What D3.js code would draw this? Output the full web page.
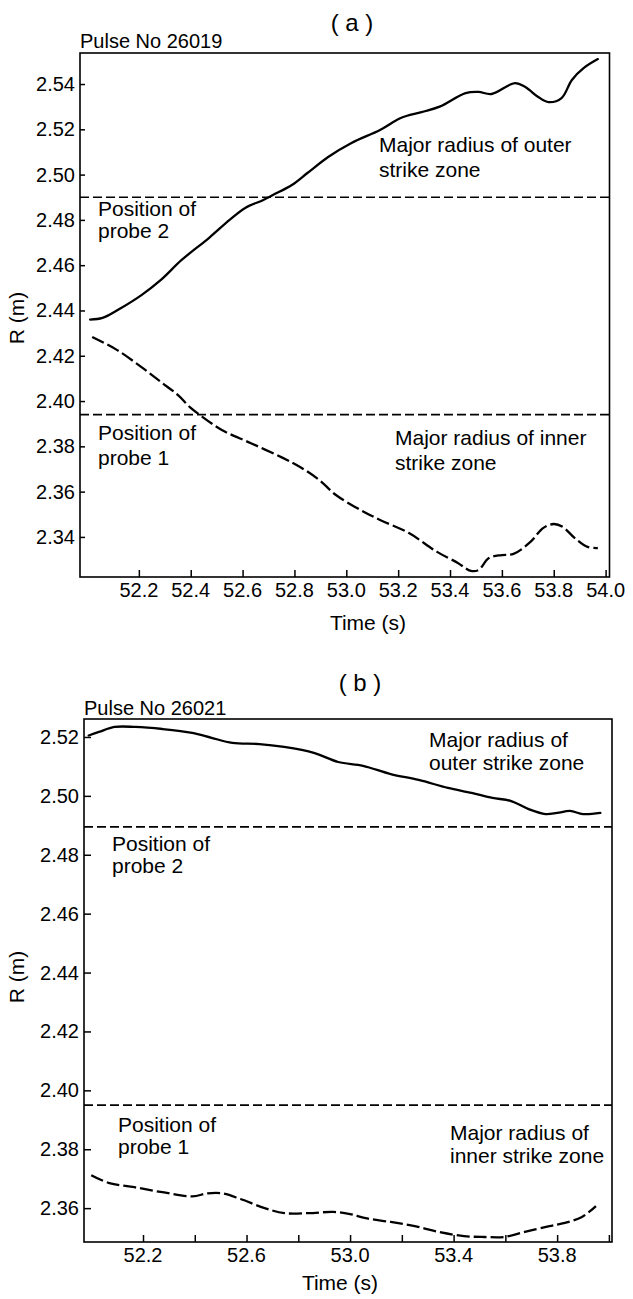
<!DOCTYPE html>
<html>
<head>
<meta charset="utf-8">
<script src="https://cdn.jsdelivr.net/npm/d3@7"></script>
<style>
  html, body { margin: 0; padding: 0; background: #fff; }
  svg { display: block; }
  text { font-family: "Liberation Sans", Arial, Helvetica, sans-serif; fill: #000; }
</style>
</head>
<body>
<svg id="chart" width="633" height="1299"></svg>
<script>
// ---- Pulse 26019 (panel a) ----
const timeOuterA = [52.012, 52.06, 52.13, 52.21, 52.285, 52.365, 52.47, 52.55, 52.61, 52.68, 52.717, 52.79, 52.85, 52.93, 53.02, 53.13, 53.21, 53.29, 53.36, 53.46, 53.51, 53.56, 53.65, 53.69, 53.74, 53.78, 53.83, 53.87, 53.915, 53.97];
const outerA     = [2.436, 2.4367, 2.441, 2.4468, 2.4535, 2.4623, 2.472, 2.480, 2.4853, 2.4888, 2.491, 2.4954, 2.5007, 2.5078, 2.514, 2.5197, 2.525, 2.5276, 2.530, 2.536, 2.5365, 2.5356, 2.5404, 2.5387, 2.5343, 2.532, 2.5338, 2.5418, 2.547, 2.551];
const timeInnerA = [52.02, 52.115, 52.21, 52.285, 52.35, 52.40, 52.435, 52.52, 52.63, 52.755, 52.82, 52.895, 52.96, 53.055, 53.13, 53.24, 53.35, 53.43, 53.48, 53.51, 53.55, 53.60, 53.645, 53.71, 53.76, 53.80, 53.835, 53.88, 53.93, 53.97];
const innerA     = [2.4283, 2.4226, 2.415, 2.4084, 2.4027, 2.397, 2.3939, 2.3872, 2.3815, 2.3749, 2.371, 2.3652, 2.3585, 2.3519, 2.3475, 2.3418, 2.3334, 2.3285, 2.325, 2.3254, 2.3307, 2.332, 2.3325, 2.3378, 2.344, 2.3457, 2.3444, 2.3396, 2.3356, 2.3351];
const probesA    = [2.490, 2.394];
const yTicksA    = [2.34, 2.36, 2.38, 2.40, 2.42, 2.44, 2.46, 2.48, 2.50, 2.52, 2.54];
const xTicksA    = [52.2, 52.4, 52.6, 52.8, 53.0, 53.2, 53.4, 53.6, 53.8, 54.0];
const xLabelsA   = ["52.2", "52.4", "52.6", "52.8", "53.0", "53.2", "53.4", "53.6", "53.8", "54.0"];

// ---- Pulse 26021 (panel b) ----
const timeOuterB = [51.99, 52.03, 52.09, 52.17, 52.275, 52.39, 52.465, 52.545, 52.65, 52.745, 52.86, 52.954, 53.05, 53.157, 53.265, 53.378, 53.47, 53.55, 53.62, 53.69, 53.755, 53.80, 53.85, 53.90, 53.967];
const outerB     = [2.5205, 2.5217, 2.5234, 2.5234, 2.5227, 2.5214, 2.5197, 2.518, 2.5176, 2.5166, 2.5146, 2.5115, 2.5102, 2.5074, 2.5054, 2.5027, 2.501, 2.4993, 2.4983, 2.4955, 2.4938, 2.4942, 2.4949, 2.4938, 2.4942];
const timeInnerB = [52.0, 52.07, 52.167, 52.275, 52.39, 52.45, 52.506, 52.577, 52.67, 52.747, 52.84, 52.935, 53.0, 53.06, 53.157, 53.25, 53.345, 53.44, 53.52, 53.595, 53.675, 53.77, 53.83, 53.896, 53.95];
const innerB     = [2.3712, 2.3685, 2.3671, 2.3654, 2.364, 2.365, 2.365, 2.3631, 2.36, 2.3583, 2.3583, 2.3587, 2.358, 2.3566, 2.3553, 2.3539, 2.3519, 2.3505, 2.3502, 2.3502, 2.3519, 2.3539, 2.355, 2.357, 2.3607];
const probesB    = [2.4895, 2.395];
const yTicksB    = [2.36, 2.38, 2.40, 2.42, 2.44, 2.46, 2.48, 2.50, 2.52];
const xTicksB    = [52.2, 52.4, 52.6, 52.8, 53.0, 53.2, 53.4, 53.6, 53.8, 54.0];
const xLabelsB   = ["52.2", "", "52.6", "", "53.0", "", "53.4", "", "53.8", ""];

const svg = d3.select("#chart");
const FS_TICK = 20, FS_NOTE = 21, FS_TITLE = 24;

function label(g, x, y, str, size, anchor) {
  return g.append("text")
    .attr("x", x).attr("y", y)
    .attr("font-size", size)
    .attr("text-anchor", anchor || "start")
    .text(str);
}

function zip(ts, vs) { return ts.map((t, i) => [t, vs[i]]); }

function drawPanel(p) {
  const g = svg.append("g");
  const x = d3.scaleLinear().domain(p.xDomain).range([p.left, p.right]);
  const y = d3.scaleLinear().domain(p.yDomain).range([p.bottom, p.top]);

  // y axis, ticks pointing into the plot
  const yAxis = d3.axisRight(y).tickValues(p.yTicks).tickSize(p.yTick).tickFormat("");
  g.append("g").attr("transform", `translate(${p.left},0)`).call(yAxis)
    .call(s => s.select(".domain").remove())
    .call(s => s.selectAll("line").attr("stroke", "#000").attr("stroke-width", 1.5));
  g.selectAll(".ylab").data(p.yTicks).enter().append("text")
    .attr("class", "ylab")
    .attr("x", p.left - 5).attr("y", d => y(d) + 7)
    .attr("text-anchor", "end").attr("font-size", FS_TICK)
    .text(d => d3.format(".2f")(d));

  // x axis, ticks pointing into the plot
  const xAxis = d3.axisTop(x).tickValues(p.xTicks).tickSize(p.xTick).tickFormat("");
  g.append("g").attr("transform", `translate(0,${p.bottom})`).call(xAxis)
    .call(s => s.select(".domain").remove())
    .call(s => s.selectAll("line").attr("stroke", "#000").attr("stroke-width", 1.5));
  g.selectAll(".xlab").data(p.xTicks).enter().append("text")
    .attr("class", "xlab")
    .attr("x", d => x(d)).attr("y", p.bottom + 20)
    .attr("text-anchor", "middle").attr("font-size", FS_TICK)
    .text((d, i) => p.xLabels[i]);

  // frame
  g.append("rect")
    .attr("x", p.left).attr("y", p.top)
    .attr("width", p.right - p.left).attr("height", p.bottom - p.top)
    .attr("fill", "none").attr("stroke", "#000").attr("stroke-width", 1.6);

  // probe positions
  g.selectAll(".probe").data(p.probes).enter().append("line")
    .attr("x1", p.left).attr("x2", p.right)
    .attr("y1", d => y(d)).attr("y2", d => y(d))
    .attr("stroke", "#000").attr("stroke-width", 1.7)
    .attr("stroke-dasharray", "9,4");

  const line = d3.line().x(d => x(d[0])).y(d => y(d[1])).curve(d3.curveCatmullRom.alpha(0.5));

  // outer strike zone (solid)
  g.append("path").datum(zip(p.tOuter, p.outer))
    .attr("d", line).attr("fill", "none")
    .attr("stroke", "#000").attr("stroke-width", 2.3)
    .attr("stroke-linejoin", "round").attr("stroke-linecap", "round");

  // inner strike zone (dashed)
  g.append("path").datum(zip(p.tInner, p.inner))
    .attr("d", line).attr("fill", "none")
    .attr("stroke", "#000").attr("stroke-width", 2.3)
    .attr("stroke-dasharray", "13,4");

  // titles and annotations
  label(g, p.titleX, p.titleY, p.title, FS_TITLE, "middle");
  label(g, p.left, p.pulseY, p.pulse, FS_TICK);
  p.notes.forEach(n => label(g, n[0], n[1], n[2], FS_NOTE));
  label(g, p.timeX, p.timeY, "Time (s)", FS_NOTE, "middle");
  g.append("text")
    .attr("transform", `translate(24,${p.rY}) rotate(-90)`)
    .attr("text-anchor", "middle").attr("font-size", FS_NOTE)
    .text("R (m)");
}

drawPanel({
  left: 80, right: 609.5, top: 53, bottom: 577,
  xDomain: [51.973, 54.015], yDomain: [2.3223, 2.5537],
  yTicks: yTicksA, xTicks: xTicksA, xLabels: xLabelsA,
  yTick: 5, xTick: 7,
  probes: probesA,
  tOuter: timeOuterA, outer: outerA, tInner: timeInnerA, inner: innerA,
  title: "( a )", titleX: 352, titleY: 31,
  pulse: "Pulse No 26019", pulseY: 48,
  notes: [
    [379, 152, "Major radius of outer"], [379, 177, "strike zone"],
    [98, 216, "Position of"], [98, 238, "probe 2"],
    [98, 440, "Position of"], [98, 465, "probe 1"],
    [395, 445, "Major radius of inner"], [395, 470, "strike zone"]
  ],
  timeX: 368, timeY: 630, rY: 318
});

drawPanel({
  left: 84, right: 612, top: 719, bottom: 1242,
  xDomain: [51.972, 54.012], yDomain: [2.3485, 2.5261],
  yTicks: yTicksB, xTicks: xTicksB, xLabels: xLabelsB,
  yTick: 7, xTick: 7,
  probes: probesB,
  tOuter: timeOuterB, outer: outerB, tInner: timeInnerB, inner: innerB,
  title: "( b )", titleX: 360, titleY: 691,
  pulse: "Pulse No 26021", pulseY: 715,
  notes: [
    [429, 747, "Major radius of"], [429, 770, "outer strike zone"],
    [112, 851, "Position of"], [112, 873, "probe 2"],
    [118, 1132, "Position of"], [118, 1154, "probe 1"],
    [450, 1140, "Major radius of"], [450, 1163, "inner strike zone"]
  ],
  timeX: 340, timeY: 1290, rY: 977
});
</script>
</body>
</html>
